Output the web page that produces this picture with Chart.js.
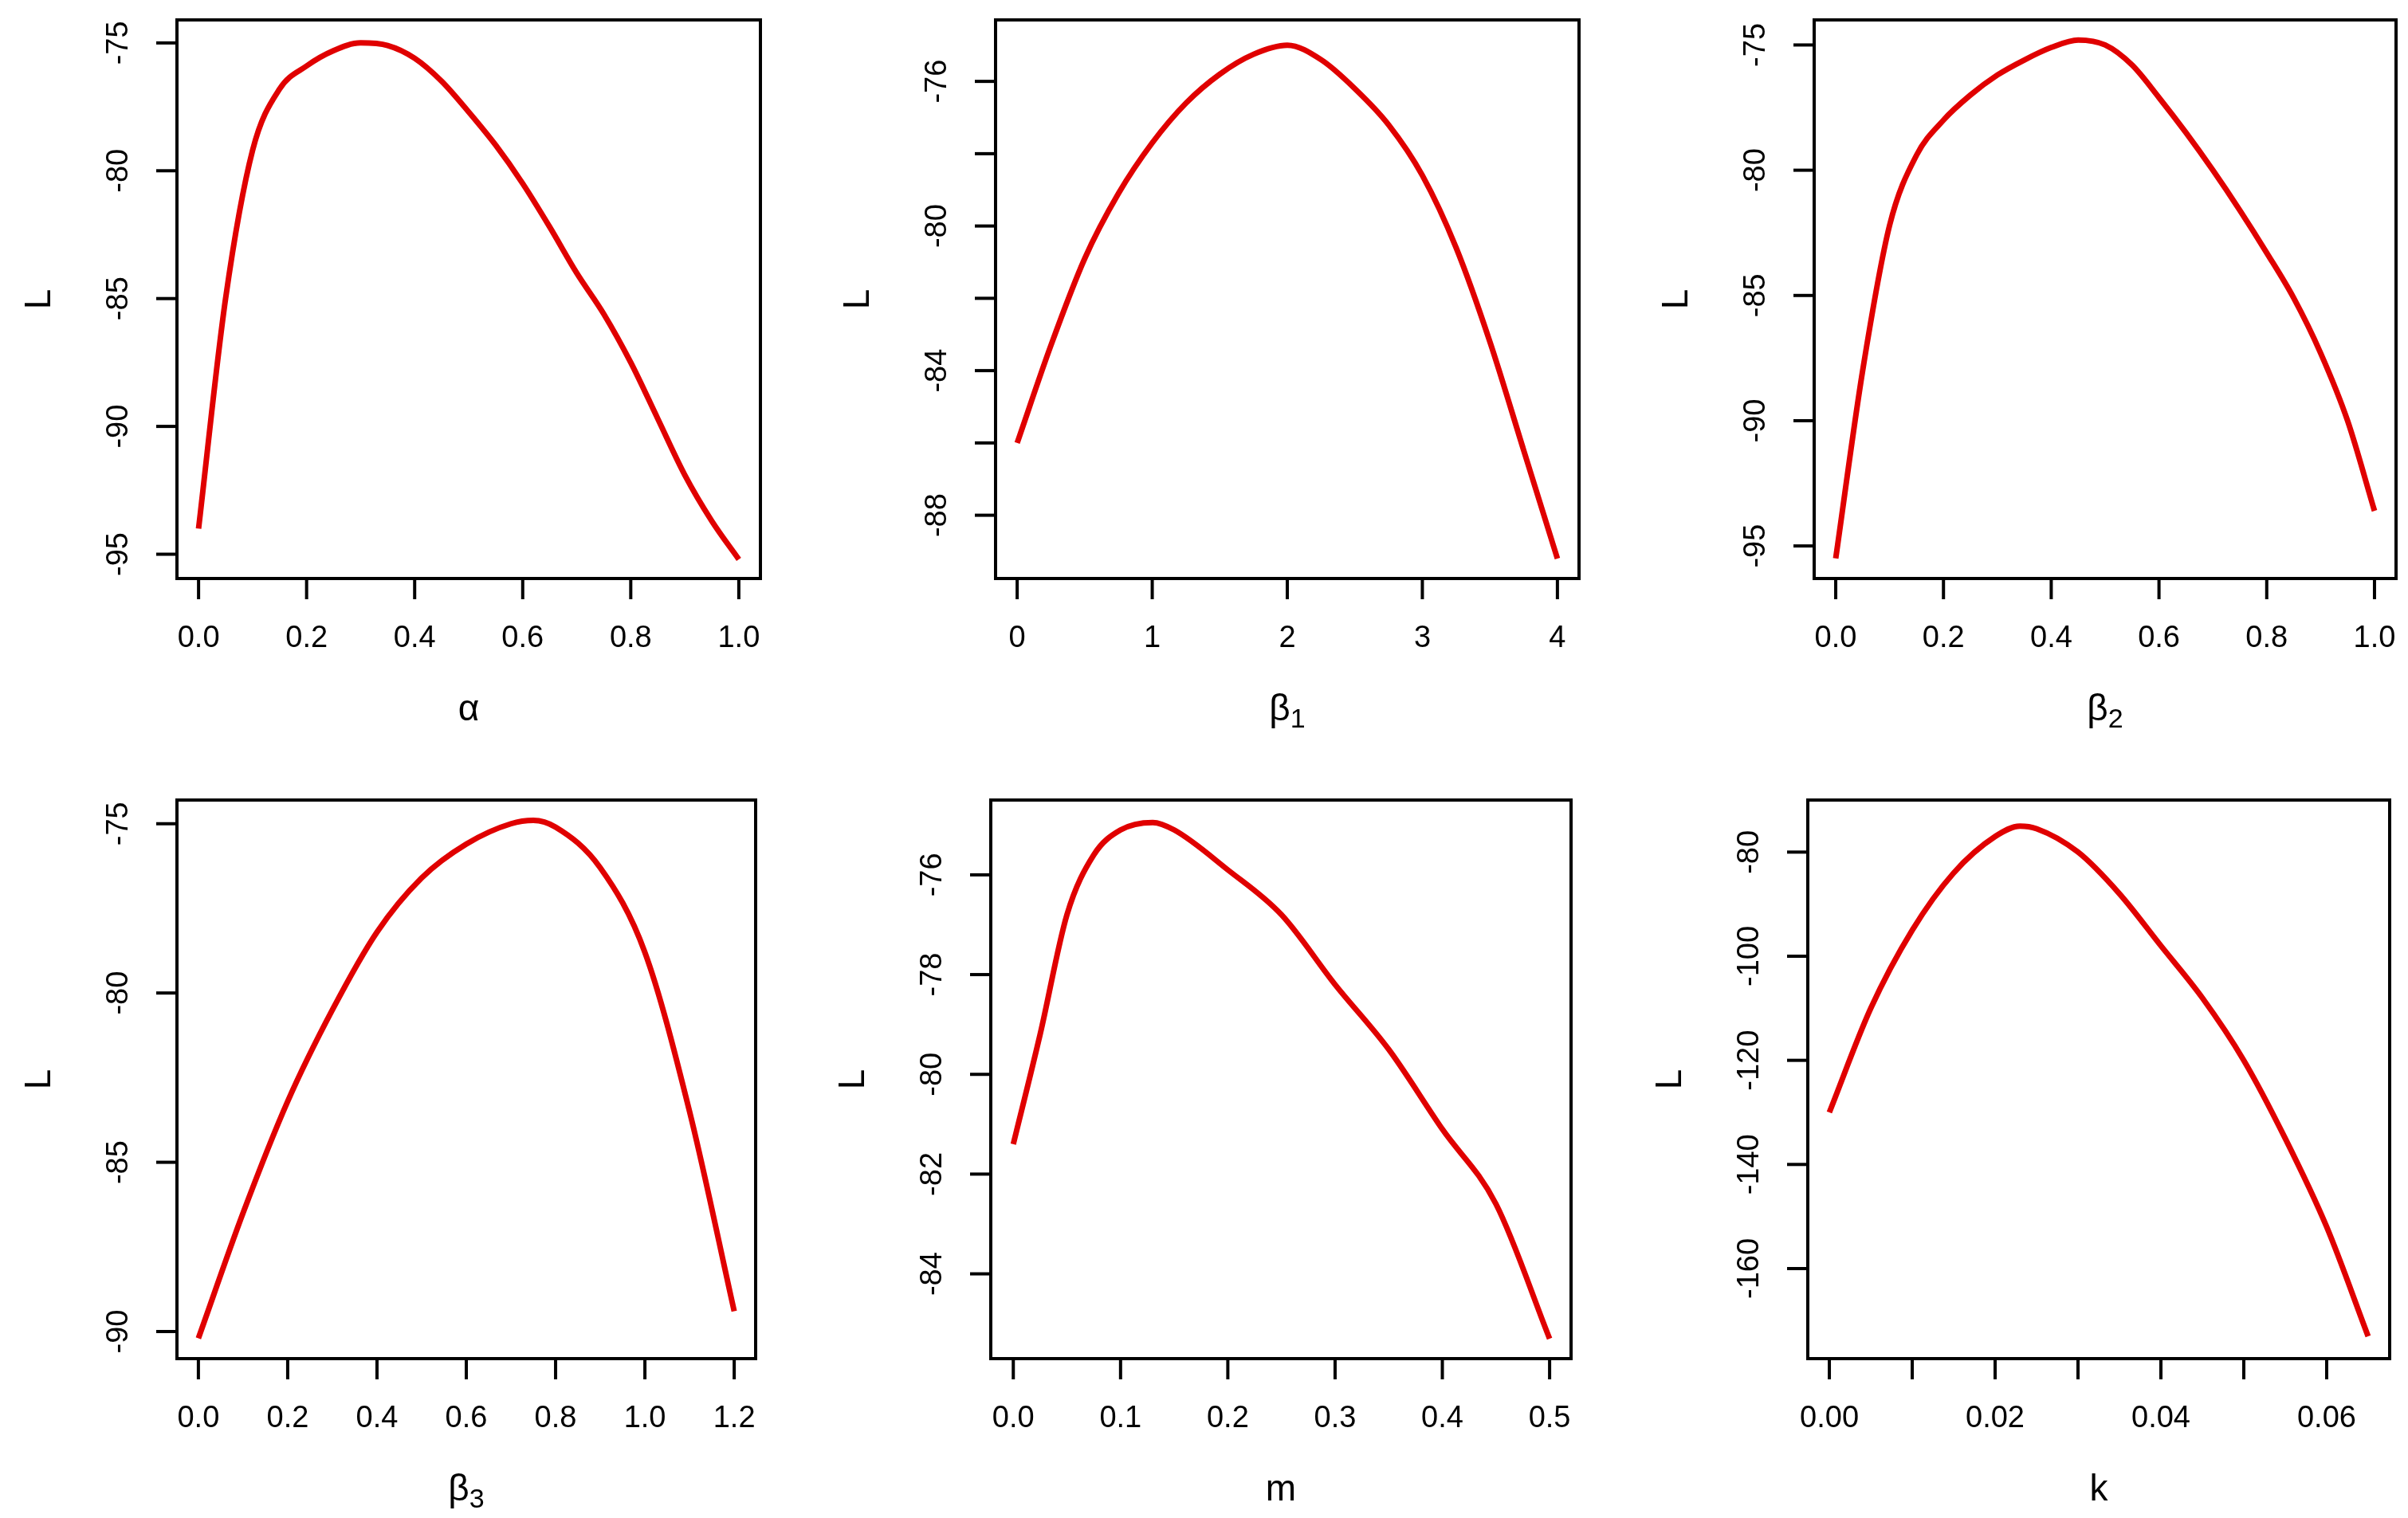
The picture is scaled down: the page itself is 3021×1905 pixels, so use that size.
<!DOCTYPE html>
<html>
<head>
<meta charset="utf-8">
<script src="https://cdn.jsdelivr.net/npm/chart.js@4/dist/chart.umd.min.js"></script>
<style>
  body { margin: 0; background: #fff; }
  .cell { position: absolute; }
</style>
</head>
<body>
<div id="wrap"></div>
<script>
// data
var alphaX = [0, 0.05, 0.1, 0.15, 0.2, 0.25, 0.3, 0.35, 0.4, 0.45, 0.5, 0.55, 0.6, 0.65, 0.7, 0.75, 0.8, 0.85, 0.9, 0.95, 1.0];
var alphaY = [-94, -85, -79.2, -76.8, -75.9, -75.3, -75, -75.1, -75.6, -76.5, -77.7, -79, -80.5, -82.2, -84, -85.6, -87.5, -89.7, -91.9, -93.7, -95.2];
var beta1X = [0, 0.25, 0.5, 0.75, 1, 1.25, 1.5, 1.75, 2, 2.25, 2.5, 2.75, 3, 3.25, 3.5, 3.75, 4];
var beta1Y = [-86, -83.3, -80.9, -79.1, -77.7, -76.6, -75.8, -75.25, -75.0, -75.4, -76.2, -77.2, -78.6, -80.6, -83.2, -86.2, -89.2];
var beta2X = [0, 0.05, 0.1, 0.15, 0.2, 0.25, 0.3, 0.35, 0.4, 0.45, 0.5, 0.55, 0.6, 0.65, 0.7, 0.75, 0.8, 0.85, 0.9, 0.95, 1.0];
var beta2Y = [-95.5, -88, -82.2, -79.4, -78, -77, -76.2, -75.6, -75.1, -74.8, -75.0, -75.8, -77.1, -78.5, -80.0, -81.6, -83.3, -85.1, -87.3, -90, -93.6];
var beta3X = [0, 0.1, 0.2, 0.3, 0.4, 0.5, 0.6, 0.7, 0.75, 0.8, 0.9, 1.0, 1.1, 1.2];
var beta3Y = [-90.2, -86.5, -83.2, -80.5, -78.2, -76.6, -75.6, -75.0, -74.9, -75.1, -76.3, -78.8, -83.5, -89.4];
var mX = [0, 0.025, 0.05, 0.075, 0.1, 0.13, 0.15, 0.2, 0.25, 0.3, 0.35, 0.4, 0.45, 0.5];
var mY = [-81.4, -79.2, -76.8, -75.6, -75.1, -74.95, -75.1, -75.9, -76.8, -78.2, -79.5, -81.1, -82.6, -85.3];
var kX = [0, 0.005, 0.01, 0.015, 0.02, 0.023, 0.025, 0.03, 0.035, 0.04, 0.045, 0.05, 0.055, 0.06, 0.065];
var kY = [-130, -110, -95, -84, -77, -75, -75.5, -80, -88, -98, -108, -120, -135, -152, -173];

// ticks: value list and shown labels ('' = tick without label)
var alphaXTicks = [0, 0.2, 0.4, 0.6, 0.8, 1.0];
var alphaXLabels = ['0.0', '0.2', '0.4', '0.6', '0.8', '1.0'];
var alphaYTicks = [-75, -80, -85, -90, -95];
var alphaYLabels = ['-75', '-80', '-85', '-90', '-95'];
var beta1XTicks = [0, 1, 2, 3, 4];
var beta1XLabels = ['0', '1', '2', '3', '4'];
var beta1YTicks = [-76, -78, -80, -82, -84, -86, -88];
var beta1YLabels = ['-76', '', '-80', '', '-84', '', '-88'];
var beta2XTicks = alphaXTicks;
var beta2XLabels = alphaXLabels;
var beta2YTicks = [-75, -80, -85, -90, -95];
var beta2YLabels = ['-75', '-80', '-85', '-90', '-95'];
var beta3XTicks = [0, 0.2, 0.4, 0.6, 0.8, 1.0, 1.2];
var beta3XLabels = ['0.0', '0.2', '0.4', '0.6', '0.8', '1.0', '1.2'];
var beta3YTicks = [-75, -80, -85, -90];
var beta3YLabels = ['-75', '-80', '-85', '-90'];
var mXTicks = [0, 0.1, 0.2, 0.3, 0.4, 0.5];
var mXLabels = ['0.0', '0.1', '0.2', '0.3', '0.4', '0.5'];
var mYTicks = [-76, -78, -80, -82, -84];
var mYLabels = ['-76', '-78', '-80', '-82', '-84'];
var kXTicks = [0, 0.01, 0.02, 0.03, 0.04, 0.05, 0.06];
var kXLabels = ['0.00', '', '0.02', '', '0.04', '', '0.06'];
var kYTicks = [-80, -100, -120, -140, -160];
var kYLabels = ['-80', '-100', '-120', '-140', '-160'];

var panels = [
  { x: alphaX, y: alphaY, xt: alphaXTicks, xl: alphaXLabels, yt: alphaYTicks, yl: alphaYLabels,
    xmin: -0.04, xmax: 1.04, ymin: -95.95, ymax: -74.1, title: ['α', ''],
    left: 0, top: 0, w: 1007, h: 952, pad: { left: 222, right: 53, top: 25, bottom: 226 } },
  { x: beta1X, y: beta1Y, xt: beta1XTicks, xl: beta1XLabels, yt: beta1YTicks, yl: beta1YLabels,
    xmin: -0.16, xmax: 4.16, ymin: -89.75, ymax: -74.3, title: ['β', '1'],
    left: 1007, top: 0, w: 1007, h: 952, pad: { left: 242, right: 33, top: 25, bottom: 226 } },
  { x: beta2X, y: beta2Y, xt: beta2XTicks, xl: beta2XLabels, yt: beta2YTicks, yl: beta2YLabels,
    xmin: -0.04, xmax: 1.04, ymin: -96.3, ymax: -74.0, title: ['β', '2'],
    left: 2014, top: 0, w: 1007, h: 952, pad: { left: 262, right: 15, top: 25, bottom: 226 } },
  { x: beta3X, y: beta3Y, xt: beta3XTicks, xl: beta3XLabels, yt: beta3YTicks, yl: beta3YLabels,
    xmin: -0.048, xmax: 1.248, ymin: -90.8, ymax: -74.3, title: ['β', '3'],
    left: 0, top: 952, w: 1007, h: 952, pad: { left: 222, right: 59, top: 52, bottom: 199 } },
  { x: mX, y: mY, xt: mXTicks, xl: mXLabels, yt: mYTicks, yl: mYLabels,
    xmin: -0.021, xmax: 0.52, ymin: -85.7, ymax: -74.5, title: ['m', ''],
    left: 1007, top: 952, w: 1007, h: 952, pad: { left: 236, right: 43, top: 52, bottom: 199 } },
  { x: kX, y: kY, xt: kXTicks, xl: kXLabels, yt: kYTicks, yl: kYLabels,
    xmin: -0.0026, xmax: 0.0676, ymin: -177.3, ymax: -70.0, title: ['k', ''],
    left: 2014, top: 952, w: 1007, h: 952, pad: { left: 254, right: 23, top: 52, bottom: 199 } }
];

var FONT = '"Liberation Sans", Arial, sans-serif';

// R-style box, outside ticks, rotated y labels and axis titles
var rAxes = {
  id: 'rAxes',
  afterDraw: function (chart) {
    var p = chart.options.plugins.rAxes;
    var ctx = chart.ctx, a = chart.chartArea;
    var sx = chart.scales.x, sy = chart.scales.y;
    ctx.save();
    ctx.strokeStyle = '#000';
    ctx.fillStyle = '#000';
    ctx.lineWidth = 4;
    ctx.strokeRect(a.left, a.top, a.right - a.left, a.bottom - a.top);
    ctx.font = '38px ' + FONT;
    ctx.textAlign = 'center';
    ctx.textBaseline = 'middle';
    p.xt.forEach(function (v, i) {
      var px = sx.getPixelForValue(v);
      ctx.beginPath(); ctx.moveTo(px, a.bottom); ctx.lineTo(px, a.bottom + 26); ctx.stroke();
      if (p.xl[i]) ctx.fillText(p.xl[i], px, a.bottom + 76);
    });
    p.yt.forEach(function (v, i) {
      var py = sy.getPixelForValue(v);
      ctx.beginPath(); ctx.moveTo(a.left, py); ctx.lineTo(a.left - 26, py); ctx.stroke();
      if (p.yl[i]) {
        ctx.save();
        ctx.translate(a.left - 72, py);
        ctx.rotate(-Math.PI / 2);
        ctx.fillText(p.yl[i], 0, 0);
        ctx.restore();
      }
    });
    // x title with optional subscript
    var cx = (a.left + a.right) / 2, ty = a.bottom + 165;
    ctx.font = '46px ' + FONT;
    if (p.title[1]) {
      var w1 = ctx.measureText(p.title[0]).width;
      ctx.font = '34px ' + FONT;
      var w2 = ctx.measureText(p.title[1]).width;
      var x0 = cx - (w1 + w2) / 2;
      ctx.textAlign = 'left';
      ctx.font = '46px ' + FONT;
      ctx.fillText(p.title[0], x0, ty);
      ctx.font = '34px ' + FONT;
      ctx.fillText(p.title[1], x0 + w1, ty + 13);
    } else {
      ctx.fillText(p.title[0], cx, ty);
    }
    // y title
    ctx.font = '46px ' + FONT;
    ctx.textAlign = 'center';
    ctx.save();
    ctx.translate(a.left - 172, (a.top + a.bottom) / 2);
    ctx.rotate(-Math.PI / 2);
    ctx.fillText('L', 0, 0);
    ctx.restore();
    ctx.restore();
  }
};

var wrap = document.getElementById('wrap');
panels.forEach(function (p) {
  var div = document.createElement('div');
  div.className = 'cell';
  div.style.left = p.left + 'px';
  div.style.top = p.top + 'px';
  div.style.width = p.w + 'px';
  div.style.height = p.h + 'px';
  var cv = document.createElement('canvas');
  div.appendChild(cv);
  wrap.appendChild(div);
  var pts = p.x.map(function (v, i) { return { x: v, y: p.y[i] }; });
  new Chart(cv.getContext('2d'), {
    type: 'scatter',
    data: {
      datasets: [{
        data: pts,
        showLine: true,
        borderColor: '#e00000',
        borderWidth: 7,
        pointRadius: 0,
        cubicInterpolationMode: 'monotone'
      }]
    },
    options: {
      responsive: true,
      maintainAspectRatio: false,
      animation: false,
      layout: { padding: p.pad },
      scales: {
        x: { type: 'linear', display: false, min: p.xmin, max: p.xmax },
        y: { type: 'linear', display: false, min: p.ymin, max: p.ymax }
      },
      plugins: {
        legend: { display: false },
        tooltip: { enabled: false },
        rAxes: { xt: p.xt, xl: p.xl, yt: p.yt, yl: p.yl, title: p.title }
      }
    },
    plugins: [rAxes]
  });
});
</script>
</body>
</html>
